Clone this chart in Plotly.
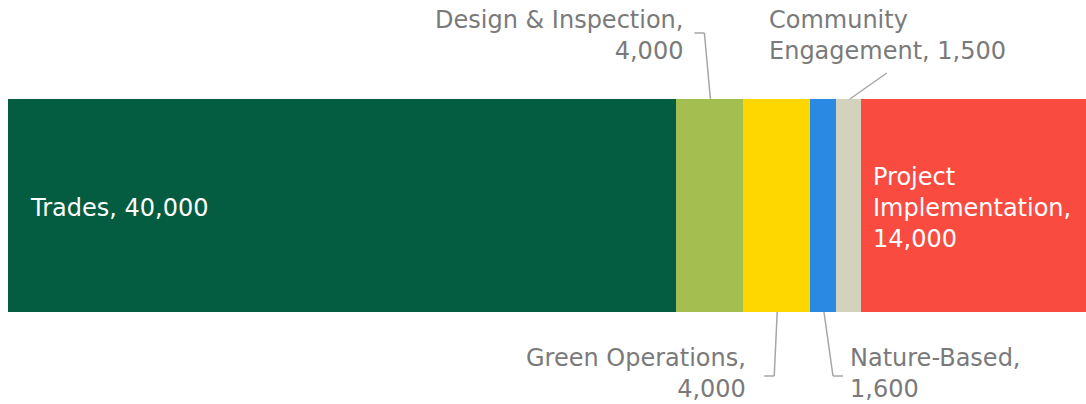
import plotly.graph_objects as go

categories = ["Trades", "Design & Inspection", "Green Operations", "Nature-Based",
              "Community Engagement", "Project Implementation"]
values = [40000, 4000, 4000, 1600, 1500, 14000]
colors = ["#045D40", "#A4BF50", "#FFD700", "#2A89E2", "#D3D3BD", "#FA4B41"]
# how each label is broken into lines
label_lines = [
    ["Trades, {v}"],
    ["Design & Inspection,", "{v}"],
    ["Green Operations,", "{v}"],
    ["Nature-Based,", "{v}"],
    ["Community", "Engagement, {v}"],
    ["Project", "Implementation,", "{v}"],
]
x_max = 64550

FONT = "DejaVu Sans"
FS = 24
GREY = "#7a7a7a"
LINE = "#a6a6a6"

fig = go.Figure()
for name, v, c in zip(categories, values, colors):
    fig.add_trace(go.Bar(x=[v], y=[""], orientation="h", name=name,
                         marker=dict(color=c, line=dict(width=0)),
                         hoverinfo="skip", showlegend=False))

starts = []
acc = 0
for v in values:
    starts.append(acc)
    acc += v
centers = [s + v / 2 for s, v in zip(starts, values)]
texts = ["<br>".join(l.format(v=f"{v:,}") for l in lines)
         for lines, v in zip(label_lines, values)]

ann = []
# inside labels
ann.append(dict(x=starts[0], y=0.5, xref="x", yref="paper", text=texts[0],
                xanchor="left", yanchor="middle", align="left", xshift=20, yshift=-2,
                showarrow=False, font=dict(family=FONT, size=FS, color="white")))
ann.append(dict(x=starts[5], y=0.5, xref="x", yref="paper", text=texts[5],
                xanchor="left", yanchor="middle", align="left", xshift=10, yshift=-2,
                showarrow=False, font=dict(family=FONT, size=FS, color="white")))
# outside labels: (index, side, xanchor, xshift, yshift)
outside = [
    (1, 1, "right", -24, 64),
    (4, 1, "left", -82, 64),
    (2, 0, "right", -28, -61),
    (3, 0, "left", 25, -61),
]
for i, yp, xa, xs, ys in outside:
    ann.append(dict(x=centers[i], y=yp, xref="x", yref="paper", text=texts[i],
                    xanchor=xa, yanchor="middle", align=xa, xshift=xs, yshift=ys,
                    showarrow=False, font=dict(family=FONT, size=FS, color=GREY)))

# leader lines (pixel offsets relative to segment centre on bar edge)
leaders = [
    (1, 1, [(-15, 66), (-5, 66), (1, 0)]),
    (4, 1, [(38, 26), (1, 0)]),
    (2, 0, [(1, 0), (-2, -64), (-12, -64)]),
    (3, 0, [(1, 0), (10, -64), (20, -64)]),
]
shapes = []
for i, yp, pts in leaders:
    for (xa0, ya0), (xa1, ya1) in zip(pts[:-1], pts[1:]):
        shapes.append(dict(type="line", xref="x", yref="paper",
                           xsizemode="pixel", ysizemode="pixel",
                           xanchor=centers[i], yanchor=yp,
                           x0=xa0, y0=ya0, x1=xa1, y1=ya1,
                           line=dict(color=LINE, width=1.5)))

fig.update_layout(
    width=1086, height=404,
    margin=dict(l=8, r=0, t=99, b=92),
    barmode="stack", bargap=0,
    plot_bgcolor="white", paper_bgcolor="white",
    xaxis=dict(range=[0, x_max], visible=False, fixedrange=True),
    yaxis=dict(visible=False, range=[-0.5, 0.5], fixedrange=True),
    annotations=ann, shapes=shapes,
)
fig.write_html("out.html")
